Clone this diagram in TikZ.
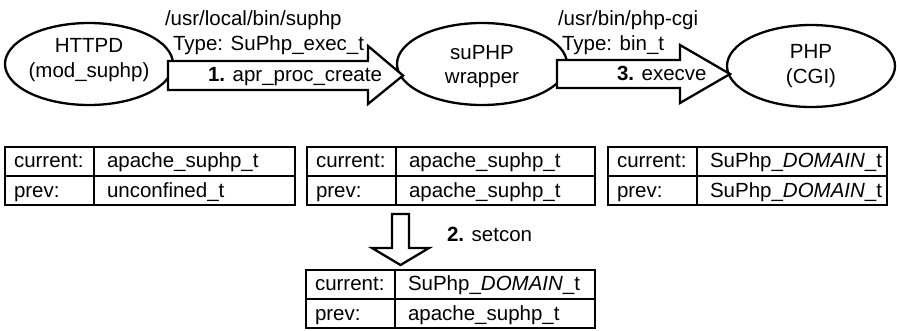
\documentclass[tikz,border=0pt]{standalone}
\usepackage{fontspec}
\setmainfont{Liberation Sans}
\usetikzlibrary{shapes.geometric}

% context table: name, centre x, centre y, width, current value, previous value
\newcommand{\ctxtab}[6]{%
  \node[tbl, minimum width=#4pt] (#1) at (#2,#3) {};
  \draw[rule] ([xshift=89pt]#1.north west) -- ([xshift=89pt]#1.south west);
  \draw[rule] (#1.west) -- (#1.east);
  \node[txt] (#1-k1) at ([shift={(9pt,-20pt)}]#1.north west) {current:};
  \node[txt] (#1-k2) at ([shift={(9pt,-50pt)}]#1.north west) {prev:};
  \node[txt] (#1-v1) at ([shift={(102pt,-20pt)}]#1.north west) {#5};
  \node[txt] (#1-v2) at ([shift={(102pt,-50pt)}]#1.north west) {#6};
}

\begin{document}
\begin{tikzpicture}[x=1pt,y=-1pt,
  every node/.style={inner sep=0pt, outer sep=0pt, font=\fontsize{20.5}{24.5}\selectfont},
  oval/.style={draw, ellipse, line width=2.3pt, minimum width=168pt, minimum height=82pt},
  blockarrow/.style={draw, fill=white, line width=2.3pt, line join=miter},
  tbl/.style={draw, line width=2.3pt, minimum height=58pt},
  rule/.style={line width=2.3pt},
  txt/.style={anchor=base west}]

\useasboundingbox (0,0) rectangle (897,330);

% processes
\node[oval] (httpd) at (89,64) {};
\node[oval, minimum width=170pt] (wrap) at (482,64) {};
\node[oval] (php) at (811,66) {};

\node[align=center] (httpdT) at ([yshift=4pt]httpd.center) {HTTPD\\(mod\_suphp)};
\node[align=center] (wrapT) at ([yshift=-2.5pt]wrap.center) {suPHP\\wrapper};
\node[align=center] (phpT) at (php.center) {PHP\\(CGI)};

% exec arrows
\draw[blockarrow] (168,61) -- (368,61) -- (368,46) -- (403,75.5) -- (368,104) -- (368,90) -- (168,90) -- cycle;
\draw[blockarrow] (557,60) -- (680,60) -- (680,45) -- (730,74) -- (680,103) -- (680,88) -- (557,88) -- cycle;

\node[txt] (path1) at (165,25) {/usr/local/bin/suphp};
\node[txt] (type1) at (173,50) {Type: SuPhp\_exec\_t};
\node[txt] (call1) at (208,81) {\textbf{1.} apr\_proc\_create};
\node[txt] (path3) at (558,25) {/usr/bin/php-cgi};
\node[txt] (type3) at (562,50) {Type: bin\_t};
\node[txt] (call3) at (617,80.5) {\textbf{3.} execve};

% security contexts
\ctxtab{tab1}{150}{176}{290}{apache\_suphp\_t}{unconfined\_t}
\ctxtab{tab2}{451}{176}{288}{apache\_suphp\_t}{apache\_suphp\_t}
\ctxtab{tab3}{747.5}{176}{279}{SuPhp\_\textit{DOMAIN}\_t}{SuPhp\_\textit{DOMAIN}\_t}
\ctxtab{tab4}{450.5}{299}{289}{SuPhp\_\textit{DOMAIN}\_t}{apache\_suphp\_t}

% setcon transition
\draw[blockarrow] (392,214) -- (409,214) -- (409,248) -- (429,248) -- (400.5,265) -- (372,248) -- (392,248) -- cycle;
\node[txt] (call2) at (447,241) {\textbf{2.} setcon};

\end{tikzpicture}
\end{document}
